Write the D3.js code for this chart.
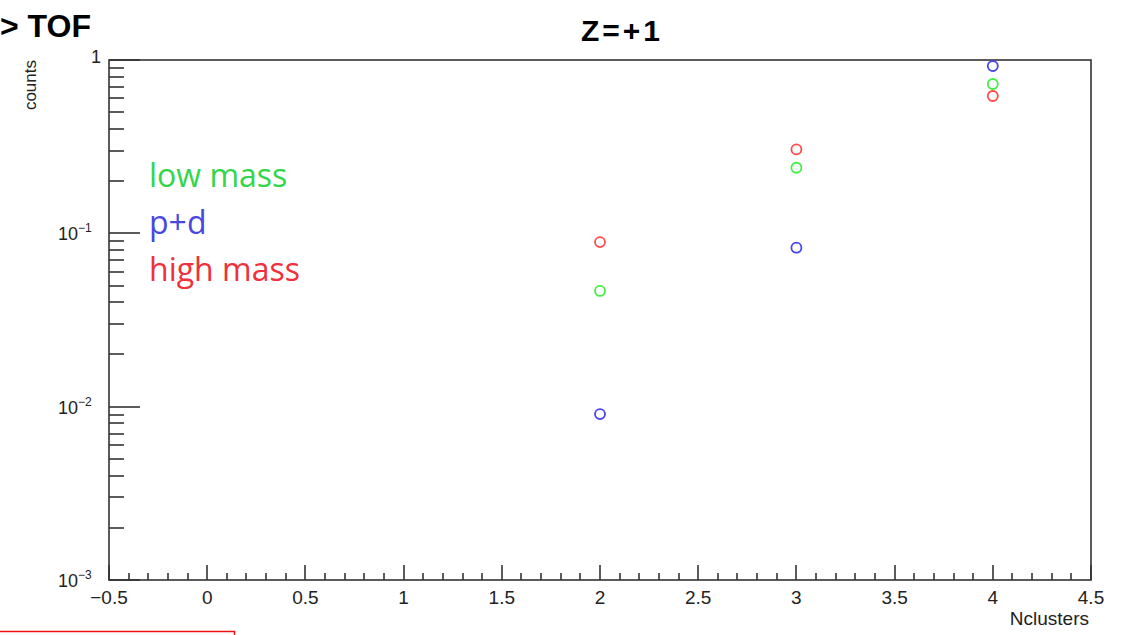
<!DOCTYPE html>
<html>
<head>
<meta charset="utf-8">
<script src="https://cdn.jsdelivr.net/npm/d3@7"></script>
<style>
  body { margin: 0; background: #fff; }
  svg { display: block; font-family: "Liberation Sans", Arial, sans-serif; }
</style>
</head>
<body>
<div id="wrapper"></div>
<script>
// values
var nclusters = [2, 3, 4];
var lowMass  = [0.0465, 0.239, 0.727];
var pd       = [0.00906, 0.0826, 0.923];
var highMass = [0.089, 0.305, 0.62];

var seriesNames  = ["low mass", "p+d", "high mass"];
var seriesColors = ["#33d64a", "#4848e0", "#f0303a"];
var markerColors = ["#44ee44", "#4444ee", "#ff4a4a"];

var xTicks = [-0.5, 0, 0.5, 1, 1.5, 2, 2.5, 3, 3.5, 4, 4.5];
var yDecades = [1e-3, 1e-2, 1e-1, 1];
var yExp = ["\u22123", "\u22122", "\u22121", ""];

var width = 1127, height = 635;
var pLeft = 109, pRight = 1091, pTop = 60, pBottom = 580;

var svg = d3.select("#wrapper").append("svg")
  .attr("width", width).attr("height", height);

var x = d3.scaleLinear().domain([-0.5, 4.5]).range([pLeft, pRight]);
var y = d3.scaleLog().domain([1e-3, 1]).range([pBottom, pTop]);

// frame
svg.append("rect")
  .attr("x", pLeft).attr("y", pTop)
  .attr("width", pRight - pLeft).attr("height", pBottom - pTop)
  .attr("fill", "none").attr("stroke", "#333").attr("stroke-width", 1.6);

// x ticks (major every 0.5, minor every 0.1)
var xMinor = d3.range(-5, 46).map(function(d){ return d / 10; });
svg.selectAll(".xt").data(xMinor).enter().append("line")
  .attr("x1", function(d){ return Math.round(x(d)); })
  .attr("x2", function(d){ return Math.round(x(d)); })
  .attr("y1", pBottom)
  .attr("y2", function(d, i){ return i % 5 == 0 ? pBottom - 15 : pBottom - 7; })
  .attr("stroke", "#333").attr("stroke-width", 1.6);

svg.selectAll(".xl").data(xTicks).enter().append("text")
  .attr("x", function(d){ return x(d); })
  .attr("y", 604)
  .attr("text-anchor", "middle")
  .attr("font-size", 19)
  .attr("fill", "#222")
  .text(function(d){ return d < 0 ? "\u2212" + Math.abs(d) : d; });

// y ticks (log)
var yMinor = [];
yDecades.slice(0, 3).forEach(function(dec){
  for (var k = 2; k <= 9; k++) yMinor.push(dec * k);
});
svg.selectAll(".ym").data(yMinor).enter().append("line")
  .attr("x1", pLeft).attr("x2", pLeft + 15)
  .attr("y1", function(d){ return Math.round(y(d)); })
  .attr("y2", function(d){ return Math.round(y(d)); })
  .attr("stroke", "#333").attr("stroke-width", 1.6);
svg.selectAll(".yM").data(yDecades).enter().append("line")
  .attr("x1", pLeft).attr("x2", pLeft + 31)
  .attr("y1", function(d){ return Math.round(y(d)); })
  .attr("y2", function(d){ return Math.round(y(d)); })
  .attr("stroke", "#333").attr("stroke-width", 1.6);

// y labels
yDecades.forEach(function(d, i){
  var t = svg.append("text")
    .attr("y", y(d) + 7)
    .attr("font-size", 18)
    .attr("fill", "#222");
  if (d == 1) {
    t.attr("x", 101).attr("y", y(d) + 3).attr("text-anchor", "end").text("1");
  } else {
    t.attr("x", 58).append("tspan").text("10");
    t.append("tspan").attr("font-size", 12).attr("dy", -8).text(yExp[i]);
  }
});

// axis titles
svg.append("text")
  .attr("transform", "translate(36,60) rotate(-90)")
  .attr("text-anchor", "end")
  .attr("font-size", 17)
  .attr("fill", "#222")
  .text("counts");
svg.append("text")
  .attr("x", 1089).attr("y", 625)
  .attr("text-anchor", "end")
  .attr("font-size", 19)
  .attr("fill", "#222")
  .text("Nclusters");

// titles
svg.append("text")
  .attr("x", 622).attr("y", 41)
  .attr("text-anchor", "middle")
  .attr("font-size", 30).attr("font-weight", "bold")
  .attr("letter-spacing", 3)
  .text("Z=+1");
svg.append("text")
  .attr("x", 0).attr("y", 37)
  .attr("font-size", 32).attr("font-weight", "bold")
  .text("> TOF");

// markers
var allSeries = [lowMass, pd, highMass];
allSeries.forEach(function(vals, s){
  svg.selectAll(".m" + s).data(vals).enter().append("circle")
    .attr("cx", function(d, i){ return x(nclusters[i]); })
    .attr("cy", function(d){ return y(d); })
    .attr("r", 5)
    .attr("fill", "none")
    .attr("stroke", markerColors[s])
    .attr("stroke-width", 1.8);
});

// legend text
svg.selectAll(".lg").data(seriesNames).enter().append("text")
  .attr("x", 149)
  .attr("y", function(d, i){ return 187 + i * 47; })
  .style("font-family", "'Open Sans', 'Noto Sans', sans-serif")
  .attr("font-size", 32)
  .attr("fill", function(d, i){ return seriesColors[i]; })
  .text(function(d){ return d; });

// red box edge at the bottom
svg.append("path")
  .attr("d", "M0,631.5 H234.5 V640")
  .attr("fill", "none").attr("stroke", "#ee1111").attr("stroke-width", 1.5);
</script>
</body>
</html>
